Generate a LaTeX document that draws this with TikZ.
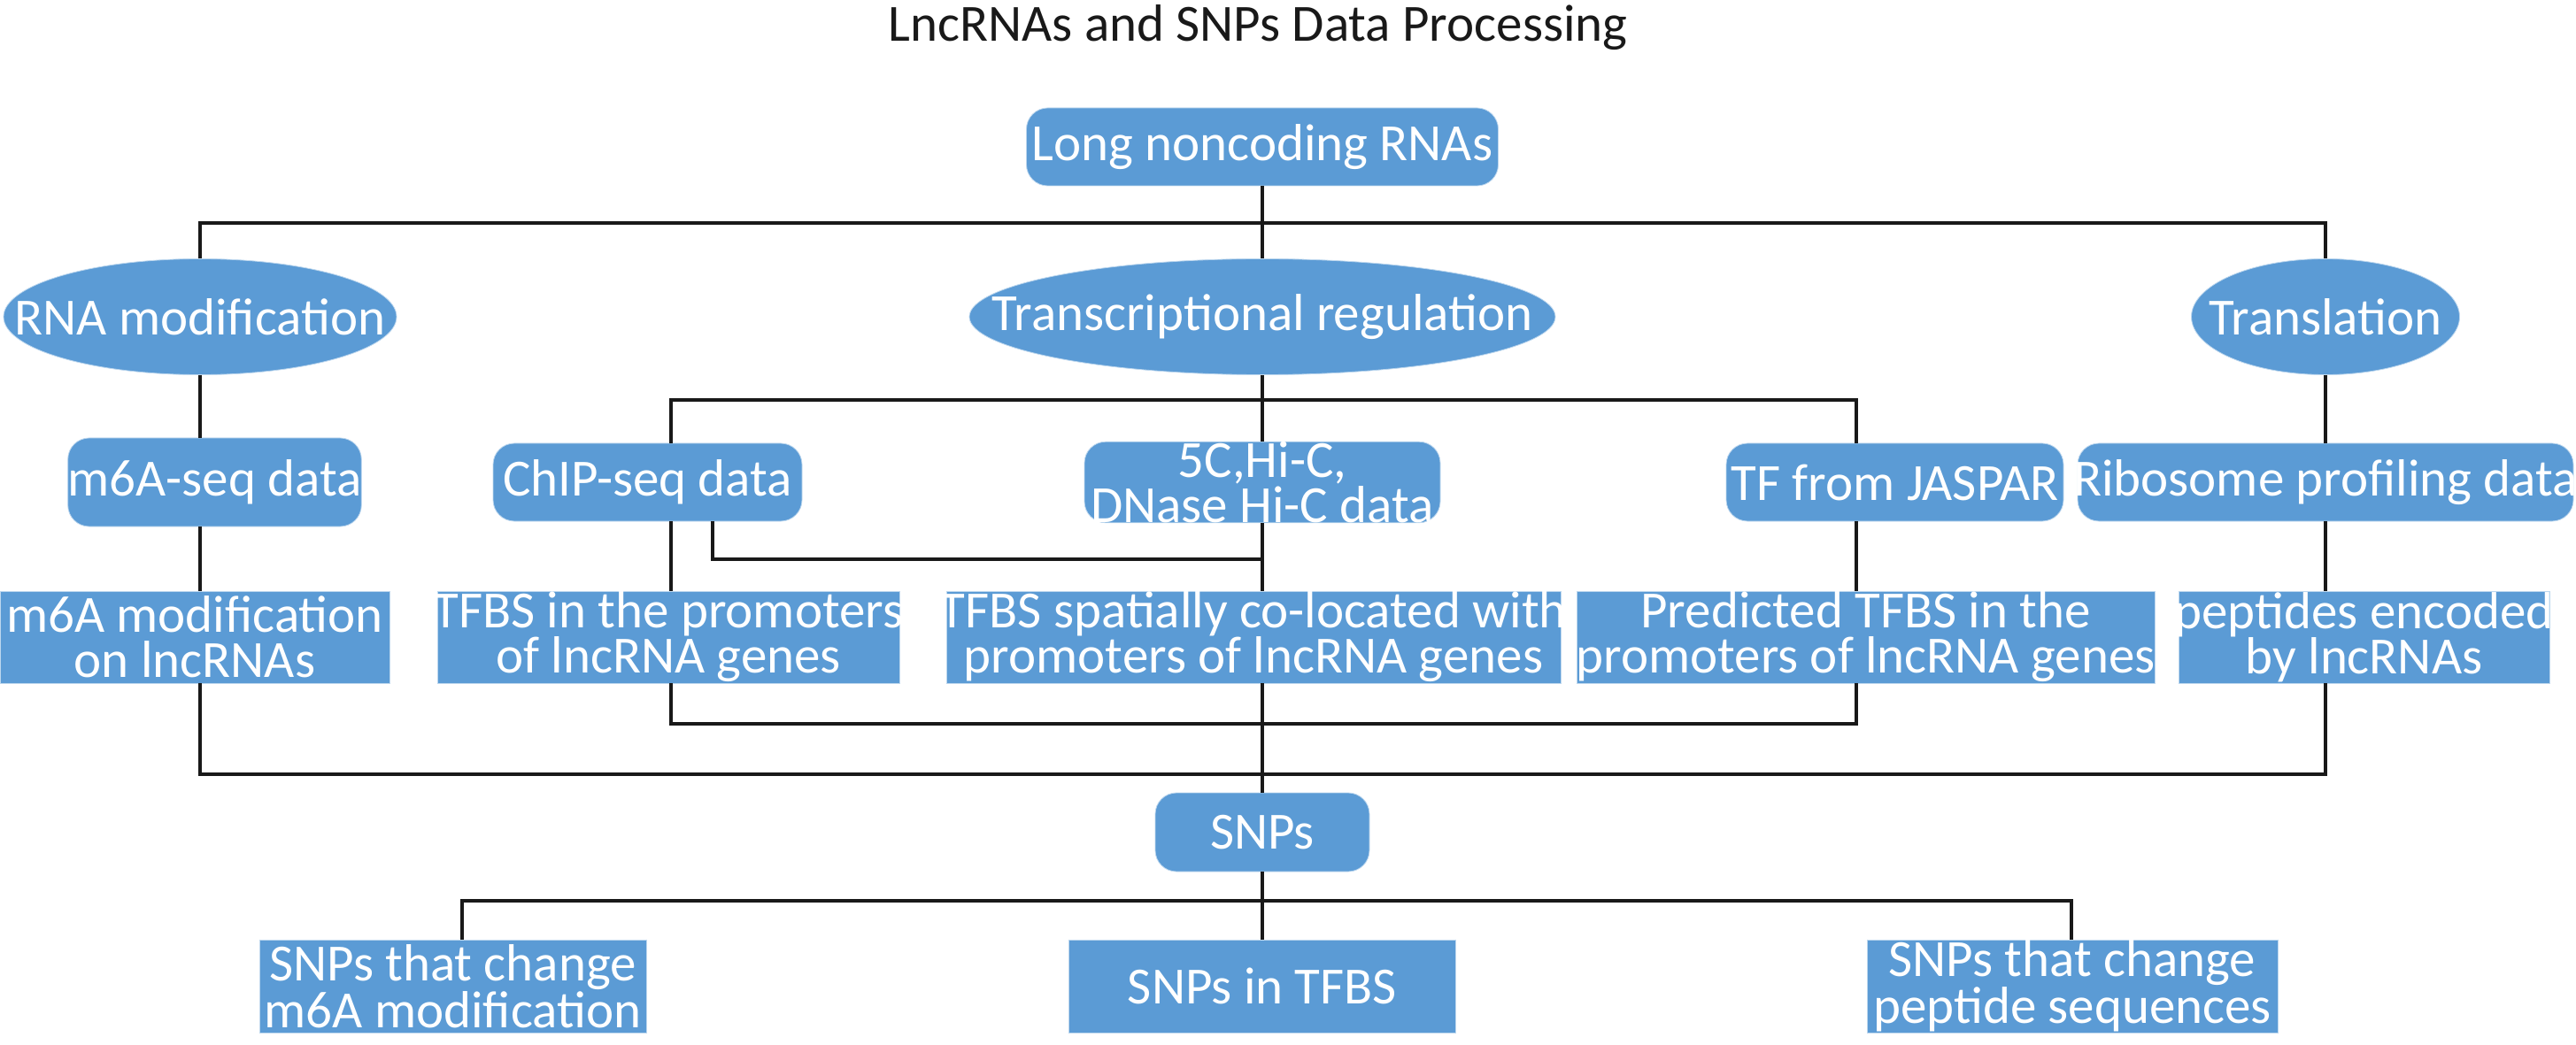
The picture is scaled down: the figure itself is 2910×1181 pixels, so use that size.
\documentclass[tikz,border=0pt]{standalone}
\usepackage{fontspec}
\setmainfont{Carlito}
\usetikzlibrary{shapes.geometric}
\definecolor{boxblue}{RGB}{91,155,213}
\definecolor{edgeblue}{RGB}{189,215,238}
\tikzset{
  x=0.5pt, y=-0.5pt,
  base/.style={fill=boxblue, draw=edgeblue, line width=0.4pt, text=white, inner sep=0pt, align=center,
    font=\fontsize{29.5}{25.5}\selectfont},
  rbox/.style={base, rectangle, rounded corners=12pt},
  sbox/.style={base, rectangle},
  ebox/.style={base, ellipse},
  conn/.style={line width=1.7pt, black!90},
}
\begin{document}
\begin{tikzpicture}
\useasboundingbox (0,0) rectangle (2910,1181);
% title
\node[anchor=base, font=\fontsize{29.5}{25}\selectfont, text=black!90] (title) at (1421,47) {LncRNAs and SNPs Data Processing};
% level 1
\node[rbox, minimum width=266.5pt, minimum height=44pt] (lnc) at (1426,166) {Long noncoding RNAs};
% level 2
\node[ebox, minimum width=222pt, minimum height=65.5pt] (rnamod) at (226,358) {\makebox[0pt]{RNA modification}};
\node[ebox, minimum width=331pt, minimum height=65.5pt] (transreg) at (1426,358) {\makebox[0pt]{Transcriptional regulation}};
\node[ebox, minimum width=151.5pt, minimum height=65.5pt] (transl) at (2627,358) {\makebox[0pt]{Translation}};
% level 3
\node[rbox, minimum width=165.5pt, minimum height=50pt] (m6aseq) at (242.5,545) {m6A-seq data};
\node[rbox, minimum width=174.5pt, minimum height=44pt] (chip) at (731.5,545) {ChIP-seq data};
\node[rbox, minimum width=201pt, minimum height=44pt, font=\fontsize{29.5}{21.5}\selectfont] (hic) at (1426,545) {5C,Hi-C,\\DNase Hi-C data};
\node[rbox, minimum width=190.5pt, minimum height=44pt] (jaspar) at (2140.5,545) {TF from JASPAR};
\node[rbox, minimum width=280pt, minimum height=44pt] (ribo) at (2627,545) {\makebox[0pt]{Ribosome profiling data}};
% level 4
\node[sbox, minimum width=220pt, minimum height=52pt] (m6amod) at (220,720) {m6A modification\\on lncRNAs};
\node[sbox, minimum width=261pt, minimum height=52pt] (tfbsprom) at (755,720) {\makebox[0pt]{TFBS in the promoters}\\of lncRNA genes};
\node[sbox, minimum width=347pt, minimum height=52pt] (tfbsspat) at (1416,720) {\makebox[0pt]{TFBS spatially co-located with}\\promoters of lncRNA genes};
\node[sbox, minimum width=326.5pt, minimum height=52pt] (predtfbs) at (2107.5,720) {Predicted TFBS in the\\\makebox[0pt]{promoters of lncRNA genes}};
\node[sbox, minimum width=209.5pt, minimum height=52pt] (pept) at (2670.5,720) {\makebox[0pt]{peptides encoded}\\by lncRNAs};
% SNPs
\node[rbox, minimum width=121pt, minimum height=44.5pt] (snps) at (1426,940.5) {SNPs};
\node[sbox, minimum width=218.5pt, minimum height=52.5pt] (snpm6a) at (511.5,1114.5) {SNPs that change\\m6A modification};
\node[sbox, minimum width=218.5pt, minimum height=52.5pt] (snptfbs) at (1426,1114.5) {SNPs in TFBS};
\node[sbox, minimum width=232pt, minimum height=52.5pt] (snppep) at (2341,1114.5) {SNPs that change\\peptide sequences};
% bar coordinates
\coordinate (tb3) at (2627,252);
\coordinate (mb1) at (758,452);
\coordinate (mb3) at (2097,452);
\coordinate (lb1) at (758,818);
\coordinate (lb3) at (2097,818);
\coordinate (bb3) at (2627,875);
\coordinate (sb1) at (522,1018);
\coordinate (sb3) at (2340,1018);
\coordinate (chipk) at (805,632);
% connectors
\draw[conn] (lnc.south) -- (transreg.north);
\draw[conn] (rnamod.north) |- (tb3) -- (transl.north);
\draw[conn] (rnamod.south) -- (rnamod.south |- m6aseq.north);
\draw[conn] (rnamod.south |- m6aseq.south) -- (rnamod.south |- m6amod.north);
\draw[conn] (rnamod.south |- m6amod.south) |- (bb3) -- (transl.south |- pept.south);
\draw[conn] (transl.south) -- (ribo.north);
\draw[conn] (ribo.south) -- (ribo.south |- pept.north);
\draw[conn] (transreg.south) -- (hic.north);
\draw[conn] (chip.north -| mb1) |- (mb3) -- (jaspar.north -| mb3);
\draw[conn] (chip.south -| mb1) -- (tfbsprom.north -| mb1);
\draw[conn] (chip.south -| chipk) -- (chipk) -- (chipk -| hic.south);
\draw[conn] (hic.south) -- (hic.south |- tfbsspat.north);
\draw[conn] (jaspar.south -| mb3) -- (predtfbs.north -| mb3);
\draw[conn] (tfbsprom.south -| lb1) |- (lb3) -- (predtfbs.south -| lb3);
\draw[conn] (hic.south |- tfbsspat.south) -- (snps.north);
\draw[conn] (snps.south) -- (snptfbs.north);
\draw[conn] (snpm6a.north -| sb1) |- (sb3) -- (snppep.north -| sb3);
\end{tikzpicture}
\end{document}
